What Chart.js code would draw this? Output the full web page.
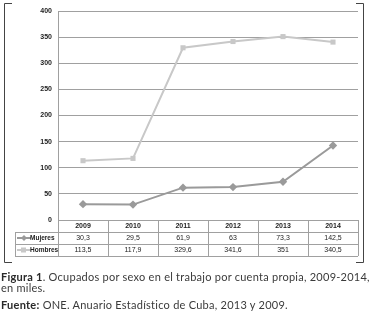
<!DOCTYPE html>
<html>
<head>
<meta charset="utf-8">
<script src="https://cdn.jsdelivr.net/npm/chart.js@4.4.0/dist/chart.umd.min.js"></script>
<style>
  html, body { margin: 0; padding: 0; background: #fff; }
  #wrap { position: relative; width: 372px; height: 318px; overflow: hidden; }
  #chart { position: absolute; left: 0; top: 0; }
  .cap { position: absolute; left: 1px; font-family: Lato, "Open Sans", sans-serif; font-size: 11px; letter-spacing: 0.25px; line-height: 13px; color: #3a3a3a; white-space: nowrap; }
  .cap b { font-weight: 700; color: #2a2a2a; }
</style>
</head>
<body>
<div id="wrap">
  <canvas id="chart" width="372" height="318"></canvas>
  <div class="cap" style="top:270px"><b>Figura 1</b>. Ocupados por sexo en el trabajo por cuenta propia, 2009-2014,</div>
  <div class="cap" style="top:281px">en miles.</div>
  <div class="cap" style="top:298px"><b>Fuente:</b> ONE. Anuario Estadístico de Cuba, 2013 y 2009.</div>
</div>
<script>
// chart data
const years = ['2009', '2010', '2011', '2012', '2013', '2014'];
const mujeres = [30.3, 29.5, 61.9, 63, 73.3, 142.5];
const hombres = [113.5, 117.9, 329.6, 341.6, 351, 340.5];
const yTicks = [0, 50, 100, 150, 200, 250, 300, 350, 400];

const colMujeres = '#9a9a9a';
const colHombres = '#c8c8c8';
const gridColor = '#a0a0a0';

function fmt(v) {
  return String(v).replace('.', ',');
}

// data table under the plot + the outer frame
const tablePlugin = {
  id: 'dataTable',
  afterDraw(chart) {
    const ctx = chart.ctx;
    const x = chart.scales.x;
    const area = chart.chartArea;
    const rowH = 12;
    const top = area.bottom;
    const legLeft = 15;
    const bottom = top + rowH * 3;

    ctx.save();
    ctx.strokeStyle = gridColor;
    ctx.lineWidth = 1;

    // horizontal lines
    ctx.beginPath();
    ctx.moveTo(area.left, top + 0.5);
    ctx.lineTo(area.right, top + 0.5);
    for (let r = 1; r <= 3; r++) {
      const y = Math.round(top + rowH * r) + 0.5;
      ctx.moveTo(legLeft, y);
      ctx.lineTo(area.right, y);
    }
    // vertical lines
    const colW = (area.right - area.left) / years.length;
    for (let i = 0; i <= years.length; i++) {
      const xx = Math.round(area.left + colW * i) + 0.5;
      ctx.moveTo(xx, top);
      ctx.lineTo(xx, bottom);
    }
    ctx.moveTo(legLeft + 0.5, top + rowH);
    ctx.lineTo(legLeft + 0.5, bottom);
    ctx.stroke();

    // texts
    ctx.fillStyle = '#222';
    ctx.textAlign = 'center';
    ctx.textBaseline = 'middle';
    years.forEach((yr, i) => {
      const cx = x.getPixelForValue(i);
      ctx.font = 'bold 7px "Liberation Sans", Arial, sans-serif';
      ctx.fillText(yr, cx, top + rowH * 0.5 + 0.5);
      ctx.font = '7px "Liberation Sans", Arial, sans-serif';
      ctx.fillText(fmt(mujeres[i]), cx, top + rowH * 1.5 + 0.5);
      ctx.fillText(fmt(hombres[i]), cx, top + rowH * 2.5 + 0.5);
    });

    // legend keys
    const keys = [
      { label: 'Mujeres', color: colMujeres, shape: 'rectRot', row: 1 },
      { label: 'Hombres', color: colHombres, shape: 'rect', row: 2 }
    ];
    keys.forEach(k => {
      const cy = top + rowH * (k.row + 0.5);
      ctx.strokeStyle = k.color;
      ctx.lineWidth = 2;
      ctx.beginPath();
      ctx.moveTo(17, cy);
      ctx.lineTo(31, cy);
      ctx.stroke();
      ctx.fillStyle = k.color;
      if (k.shape === 'rect') {
        ctx.fillRect(21, cy - 2.5, 5, 5);
      } else {
        ctx.beginPath();
        ctx.moveTo(24, cy - 3);
        ctx.lineTo(27, cy);
        ctx.lineTo(24, cy + 3);
        ctx.lineTo(21, cy);
        ctx.closePath();
        ctx.fill();
      }
      ctx.fillStyle = '#222';
      ctx.textAlign = 'left';
      ctx.font = 'bold 6.5px "Liberation Sans", Arial, sans-serif';
      ctx.fillText(k.label, 30, cy + 0.5);
    });

    // outer frame (corner brackets)
    ctx.strokeStyle = '#444';
    ctx.lineWidth = 1;
    ctx.beginPath();
    ctx.moveTo(12, 3.5); ctx.lineTo(4.5, 3.5); ctx.lineTo(4.5, 262.5); ctx.lineTo(12, 262.5);
    ctx.moveTo(356, 3.5); ctx.lineTo(363.5, 3.5); ctx.lineTo(363.5, 262.5); ctx.lineTo(356, 262.5);
    ctx.stroke();
    ctx.restore();
  }
};

new Chart(document.getElementById('chart'), {
  type: 'line',
  data: {
    labels: years,
    datasets: [
      {
        label: 'Mujeres',
        data: mujeres,
        borderColor: colMujeres,
        backgroundColor: colMujeres,
        borderWidth: 2,
        pointStyle: 'rectRot',
        pointRadius: 4.2,
        pointBorderWidth: 0,
        tension: 0
      },
      {
        label: 'Hombres',
        data: hombres,
        borderColor: colHombres,
        backgroundColor: colHombres,
        borderWidth: 2,
        pointStyle: 'rect',
        pointRadius: 3.6,
        pointBorderWidth: 0,
        tension: 0
      }
    ]
  },
  options: {
    responsive: false,
    animation: false,
    devicePixelRatio: 1,
    layout: { padding: { left: 0, top: 11, right: 14, bottom: 98 } },
    plugins: { legend: { display: false }, tooltip: { enabled: false } },
    scales: {
      x: {
        offset: true,
        grid: { display: false },
        border: { display: false },
        ticks: { display: false },
        afterFit: s => { s.height = 0; }
      },
      y: {
        min: 0,
        max: 400,
        afterBuildTicks: s => { s.ticks = yTicks.map(v => ({ value: v })); },
        afterFit: s => { s.width = 58; },
        grid: { color: gridColor, lineWidth: 1, drawTicks: false },
        border: { display: true, color: gridColor },
        ticks: {
          padding: 6,
          color: '#222',
          font: { family: '"Liberation Sans", Arial, sans-serif', size: 7, weight: 'bold' }
        }
      }
    }
  },
  plugins: [tablePlugin]
});
</script>
</body>
</html>
